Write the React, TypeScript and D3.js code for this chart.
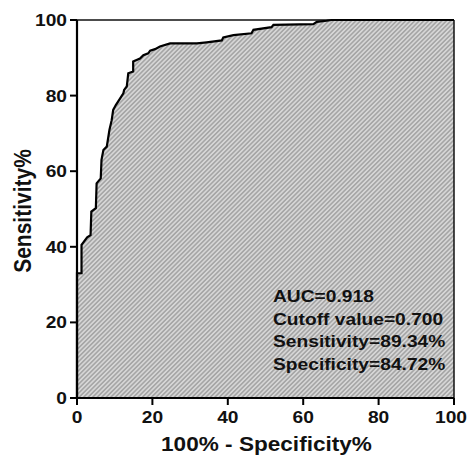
import React from "react";
import * as d3 from "d3";

// ROC curve points (100% - specificity, sensitivity)
const fprValues = [0, 0, 1.2, 1.2, 2.7, 3.6, 3.8, 5.0, 5.2, 6.3, 6.5, 7.0, 7.9, 8.6, 9.2, 9.6, 10.3, 12.3, 12.5, 13.2, 13.6, 14.9, 14.9, 16.7, 17.6, 18.9, 19.4, 20.7, 22, 24.7, 31.8, 34.4, 38.4, 38.8, 41.5, 46.3, 46.8, 51.6, 52.1, 62.7, 63.6, 66.2, 67.5, 100];
const tprValues = [0, 33, 33, 40.5, 42.5, 43.1, 49.3, 50.2, 56.8, 58.1, 63, 65.6, 66.5, 70.9, 73.5, 76.2, 77.5, 80.6, 81.5, 82.4, 85.9, 86.4, 89.0, 89.8, 90.7, 91.2, 91.9, 92.3, 93, 93.8, 93.8, 94.1, 94.6, 95.4, 96, 96.5, 97.4, 98.1, 98.7, 98.9, 99.5, 99.8, 100, 100];

const xTicks = [0, 20, 40, 60, 80, 100];
const yTicks = [0, 20, 40, 60, 80, 100];
const annotations = ["AUC=0.918", "Cutoff value=0.700", "Sensitivity=89.34%", "Specificity=84.72%"];
const xTitle = "100% - Specificity%";
const yTitle = "Sensitivity%";

const W = 471;
const H = 457;
const FONT = "'Liberation Sans', Arial, Helvetica, sans-serif";
const SX = 1.13;

export default function App() {
  const x = d3.scaleLinear().domain([0, 100]).range([77, 454]);
  const y = d3.scaleLinear().domain([0, 100]).range([398, 20]);

  const pts: [number, number][] = fprValues.map((f, i) => [f, tprValues[i]]);
  const line = d3.line<[number, number]>().x((d) => x(d[0])).y((d) => y(d[1]));
  const area = d3
    .area<[number, number]>()
    .x((d) => x(d[0]))
    .y0(y(0))
    .y1((d) => y(d[1]));

  const stretchText = (tx: number, ty: number, content: string, size: number, anchor: string, key?: string | number) => (
    <g key={key} transform={`translate(${tx},${ty}) scale(${SX},1)`}>
      <text x={0} y={0} fontFamily={FONT} fontWeight="bold" fontSize={size} textAnchor={anchor} fill="#111">
        {content}
      </text>
    </g>
  );

  return (
    <svg width={W} height={H} style={{ position: "absolute", left: 0, top: 0, background: "#fff" }}>
      <defs>
        <pattern id="hatch" width="3.2" height="3.2" patternUnits="userSpaceOnUse" patternTransform="rotate(-45)">
          <rect x="0" y="0" width="3.2" height="3.2" fill="#d6d6d6" />
          <rect x="0" y="0" width="3.2" height="1.6" fill="#a6a6a6" />
        </pattern>
      </defs>

      {/* area under curve */}
      <path d={area(pts) || ""} fill="url(#hatch)" stroke="none" />
      {/* frame top and right */}
      <line x1={x(0)} x2={x(100)} y1={y(100)} y2={y(100)} stroke="#111" strokeWidth={1.5} />
      <line x1={x(100)} x2={x(100)} y1={y(100)} y2={y(0)} stroke="#111" strokeWidth={1.5} />
      {/* ROC curve */}
      <path d={line(pts) || ""} fill="none" stroke="#000" strokeWidth={2.2} strokeLinejoin="miter" />

      {/* axes */}
      <line x1={x(0)} x2={x(100)} y1={y(0)} y2={y(0)} stroke="#000" strokeWidth={2.2} />
      <line x1={x(0)} x2={x(0)} y1={y(0)} y2={y(100)} stroke="#000" strokeWidth={2.2} />
      {xTicks.map((t) => (
        <line key={"xt" + t} x1={x(t)} x2={x(t)} y1={y(0)} y2={y(0) + 7} stroke="#000" strokeWidth={2} />
      ))}
      {yTicks.map((t) => (
        <line key={"yt" + t} x1={x(0) - 7} x2={x(0)} y1={y(t)} y2={y(t)} stroke="#000" strokeWidth={2} />
      ))}
      {xTicks.map((t, i) =>
        i === xTicks.length - 1
          ? stretchText(467, 423, String(t), 17, "end", "xl" + t)
          : stretchText(x(t), 423, String(t), 17, "middle", "xl" + t)
      )}
      {yTicks.map((t) => stretchText(67, y(t) + 6, String(t), 17, "end", "yl" + t))}

      {/* titles */}
      {stretchText(x(50) + 1, 451, xTitle, 20, "middle", "xtitle")}
      <g transform={`translate(31,211) scale(${SX},1) rotate(-90)`}>
        <text x={0} y={0} fontFamily={FONT} fontWeight="bold" fontSize={21} textAnchor="middle" fill="#111">
          {yTitle}
        </text>
      </g>

      {/* annotation */}
      {annotations.map((a, i) => stretchText(273, 302 + i * 22.6, a, 17, "start", "ann" + i))}
    </svg>
  );
}
